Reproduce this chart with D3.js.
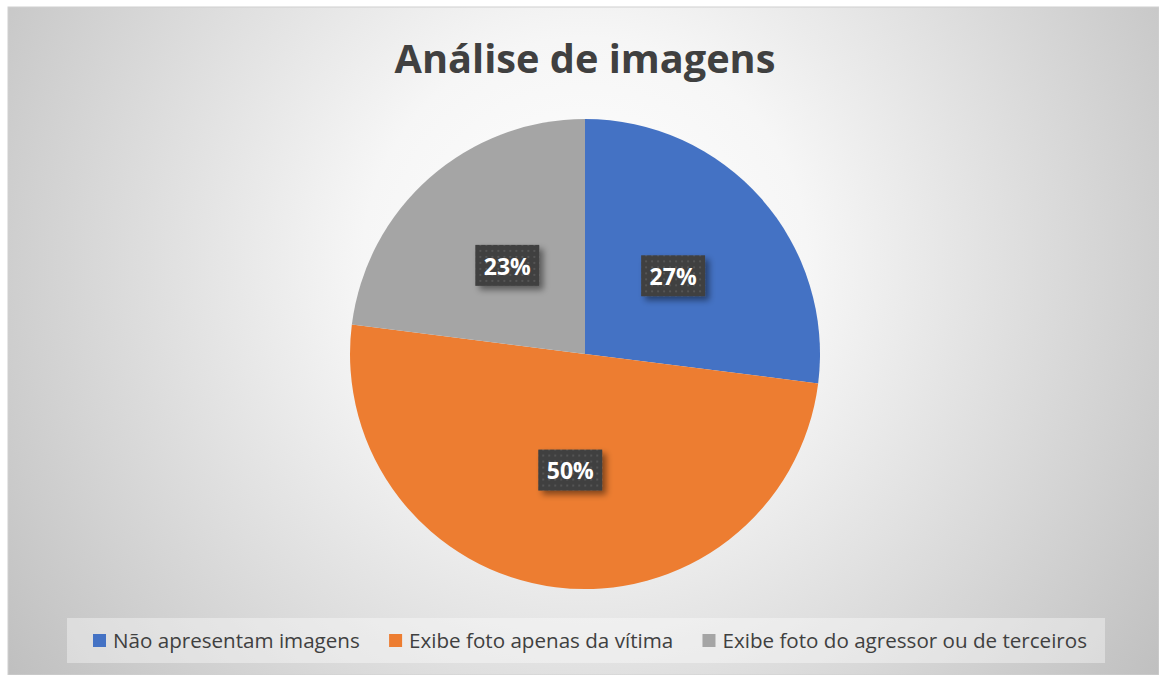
<!DOCTYPE html>
<html>
<head>
<meta charset="utf-8">
<script src="https://cdn.jsdelivr.net/npm/d3@7"></script>
<style>
  html, body { margin: 0; padding: 0; background: #fff; }
  svg { display: block; }
</style>
</head>
<body>
<svg id="chart"></svg>
<script>
const categories = ['Não apresentam imagens', 'Exibe foto apenas da vítima', 'Exibe foto do agressor ou de terceiros']
const values = [27, 50, 23]
const colors = ['#4472c4', '#ed7d31', '#a5a5a5']
const title = 'Análise de imagens'

const W = 1159, H = 675
const frame = { x: 8, y: 7, w: 1151, h: 668 }
const center = [585, 354]
const radius = 235
const fontFamily = '"Open Sans", "Liberation Sans", sans-serif'

const svg = d3.select('#chart').attr('width', W).attr('height', H)
const defs = svg.append('defs')

// background gradient
const bg = defs.append('radialGradient').attr('id', 'bgGrad')
    .attr('gradientUnits', 'userSpaceOnUse')
    .attr('cx', 585).attr('cy', 260).attr('r', 740)
bg.append('stop').attr('offset', '0%').attr('stop-color', '#ffffff')
bg.append('stop').attr('offset', '30%').attr('stop-color', '#f6f6f6')
bg.append('stop').attr('offset', '100%').attr('stop-color', '#bcbcbc')

// dotted pattern for label boxes
const pat = defs.append('pattern').attr('id', 'dots')
    .attr('patternUnits', 'userSpaceOnUse').attr('width', 6).attr('height', 6)
pat.append('rect').attr('width', 6).attr('height', 6).attr('fill', '#3f3f3f')
pat.append('rect').attr('x', 2).attr('y', 2).attr('width', 2).attr('height', 2).attr('fill', '#555555')

const shadow = defs.append('filter').attr('id', 'shadow')
    .attr('x', '-30%').attr('y', '-30%').attr('width', '170%').attr('height', '170%')
shadow.append('feDropShadow').attr('dx', 4).attr('dy', 4).attr('stdDeviation', 3)
    .attr('flood-color', '#000').attr('flood-opacity', 0.45)

svg.append('rect')
    .attr('x', frame.x).attr('y', frame.y).attr('width', frame.w).attr('height', frame.h)
    .attr('fill', 'url(#bgGrad)').attr('stroke', '#d0d0d0')

// title, fitted to the width seen in the picture
const titleText = svg.append('text')
    .attr('x', 585).attr('y', 73)
    .attr('text-anchor', 'middle')
    .attr('font-family', fontFamily).attr('font-weight', 700)
    .attr('font-size', 40).attr('fill', '#404040')
    .text(title)
const tw = titleText.node().getComputedTextLength()
titleText.attr('font-size', 40 * 381 / tw)

// pie
const pie = d3.pie().sort(null).value(d => d)
const arcs = pie(values)
const arc = d3.arc().innerRadius(0).outerRadius(radius)

const g = svg.append('g').attr('transform', `translate(${center})`)
g.selectAll('path.slice')
    .data(arcs)
    .join('path')
    .attr('class', 'slice')
    .attr('d', arc)
    .attr('fill', (d, i) => colors[i])

const labels = g.selectAll('g.label')
    .data(arcs)
    .join('g')
    .attr('class', 'label')
    .attr('transform', d => `translate(${arc.centroid(d)})`)

labels.append('rect')
    .attr('x', -32).attr('y', -21).attr('width', 64).attr('height', 41)
    .attr('fill', 'url(#dots)')
    .attr('filter', 'url(#shadow)')

labels.append('text')
    .attr('text-anchor', 'middle')
    .attr('dy', '0.38em')
    .attr('font-family', fontFamily).attr('font-weight', 700)
    .attr('font-size', 23).attr('fill', '#ffffff')
    .text(d => d.data + '%')

// legend
const legendBox = { x: 67, y: 618, w: 1038, h: 45 }
svg.append('rect')
    .attr('x', legendBox.x).attr('y', legendBox.y)
    .attr('width', legendBox.w).attr('height', legendBox.h)
    .attr('fill', '#ffffff').attr('fill-opacity', 0.38)

const legend = svg.append('g')
const items = legend.selectAll('g')
    .data(categories)
    .join('g')

items.append('rect')
    .attr('width', 13).attr('height', 13)
    .attr('y', 634)
    .attr('fill', (d, i) => colors[i])

const legendTexts = items.append('text')
    .attr('y', 648)
    .attr('font-family', fontFamily)
    .attr('font-size', 19).attr('fill', '#404040')
    .text(d => d)

// fit font size so the first label spans ~247px like the picture
const w0 = legendTexts.nodes()[0].getComputedTextLength()
const lfs = 19 * 247 / w0
legendTexts.attr('font-size', lfs)

const widths = legendTexts.nodes().map(n => n.getComputedTextLength())
const gap = 26
const total = d3.sum(widths) + widths.length * 20 + (widths.length - 1) * gap
let xPos = 93
items.each(function (d, i) {
    const sel = d3.select(this)
    sel.select('rect').attr('x', xPos)
    sel.select('text').attr('x', xPos + 20)
    xPos += 20 + widths[i] + gap
})
// stretch the gaps to reach the right end seen in the picture (~1087)
const extra = (1087 - 93 - total) / (widths.length - 1)
xPos = 93
items.each(function (d, i) {
    const sel = d3.select(this)
    sel.select('rect').attr('x', xPos)
    sel.select('text').attr('x', xPos + 20)
    xPos += 20 + widths[i] + gap + extra
})
</script>
</body>
</html>
